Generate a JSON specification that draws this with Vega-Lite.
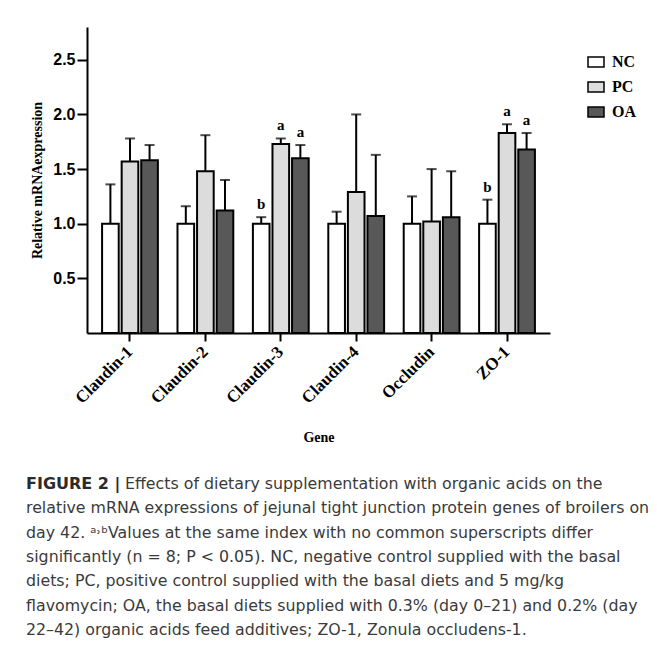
{
  "$schema": "https://vega.github.io/schema/vega-lite/v6.json",
  "background": "white",
  "padding": {"left": 26, "top": 27, "right": 5, "bottom": 5},
  "config": {"view": {"stroke": null}, "font": "Liberation Serif", "concat": {"spacing": 27}},
  "vconcat": [
    {
      "width": 463,
      "height": 306,
      "data": {"values": [
        {"gene": "Claudin-1", "group": "NC", "mean": 1.00, "err": 1.36, "sig": ""},
        {"gene": "Claudin-1", "group": "PC", "mean": 1.57, "err": 1.78, "sig": ""},
        {"gene": "Claudin-1", "group": "OA", "mean": 1.58, "err": 1.72, "sig": ""},
        {"gene": "Claudin-2", "group": "NC", "mean": 1.00, "err": 1.16, "sig": ""},
        {"gene": "Claudin-2", "group": "PC", "mean": 1.48, "err": 1.81, "sig": ""},
        {"gene": "Claudin-2", "group": "OA", "mean": 1.12, "err": 1.40, "sig": ""},
        {"gene": "Claudin-3", "group": "NC", "mean": 1.00, "err": 1.06, "sig": "b"},
        {"gene": "Claudin-3", "group": "PC", "mean": 1.73, "err": 1.78, "sig": "a"},
        {"gene": "Claudin-3", "group": "OA", "mean": 1.60, "err": 1.72, "sig": "a"},
        {"gene": "Claudin-4", "group": "NC", "mean": 1.00, "err": 1.11, "sig": ""},
        {"gene": "Claudin-4", "group": "PC", "mean": 1.29, "err": 2.00, "sig": ""},
        {"gene": "Claudin-4", "group": "OA", "mean": 1.07, "err": 1.63, "sig": ""},
        {"gene": "Occludin", "group": "NC", "mean": 1.00, "err": 1.25, "sig": ""},
        {"gene": "Occludin", "group": "PC", "mean": 1.02, "err": 1.50, "sig": ""},
        {"gene": "Occludin", "group": "OA", "mean": 1.06, "err": 1.48, "sig": ""},
        {"gene": "ZO-1", "group": "NC", "mean": 1.00, "err": 1.22, "sig": "b"},
        {"gene": "ZO-1", "group": "PC", "mean": 1.83, "err": 1.91, "sig": "a"},
        {"gene": "ZO-1", "group": "OA", "mean": 1.68, "err": 1.83, "sig": "a"}
      ]},
      "encoding": {
        "x": {
          "field": "gene", "type": "nominal",
          "sort": ["Claudin-1", "Claudin-2", "Claudin-3", "Claudin-4", "Occludin", "ZO-1"],
          "scale": {"paddingInner": 0.26},
          "title": "Gene",
          "axis": {
            "labelAngle": -45, "labelAlign": "right", "labelBaseline": "middle",
            "labelFont": "Liberation Serif", "labelFontWeight": "bold", "labelFontSize": 17,
            "labelColor": "black", "labelPadding": 8, "tickSize": 8, "tickWidth": 2, "tickColor": "black",
            "domainWidth": 2, "domainColor": "black", "titleFont": "Liberation Serif", "titleFontSize": 14,
            "titleFontWeight": "bold", "titleColor": "black", "titlePadding": 24
          }
        },
        "xOffset": {"field": "group", "type": "nominal", "sort": ["NC", "PC", "OA"], "scale": {"paddingInner": 0.15, "paddingOuter": 0}}
      },
      "layer": [
        {
          "mark": {"type": "bar", "stroke": "black", "strokeWidth": 2},
          "encoding": {
            "y": {
              "field": "mean", "type": "quantitative",
              "scale": {"domain": [0, 2.8], "nice": false},
              "title": "Relative mRNAexpression",
              "axis": {
                "values": [0.5, 1, 1.5, 2, 2.5], "format": ".1f", "grid": false,
                "domainColor": "black", "domainWidth": 2, "tickColor": "black", "tickWidth": 2, "tickSize": 10,
                "labelFont": "Liberation Sans", "labelFontWeight": "bold", "labelFontSize": 16, "labelColor": "black",
                "labelPadding": 2, "titleFont": "Liberation Serif", "titleFontSize": 14, "titleFontWeight": "bold",
                "titleColor": "black", "titlePadding": 8
              }
            },
            "fill": {
              "field": "group", "type": "nominal", "sort": ["NC", "PC", "OA"],
              "scale": {"domain": ["NC", "PC", "OA"], "range": ["#ffffff", "#dcdcdc", "#585858"]},
              "legend": {
                "orient": "none", "legendX": 500, "legendY": 26, "title": null,
                "symbolType": "M-1,-0.62H1V0.62H-1Z", "symbolSize": 256,
                "symbolStrokeColor": "black", "symbolStrokeWidth": 1.5, "symbolOpacity": 1,
                "labelFont": "Liberation Serif", "labelFontWeight": "bold", "labelFontSize": 16,
                "labelColor": "black", "labelOffset": 7, "rowPadding": 8, "padding": 0
              }
            }
          }
        },
        {
          "mark": {"type": "rule", "strokeWidth": 2, "color": "black"},
          "encoding": {
            "y": {"field": "mean", "type": "quantitative"},
            "y2": {"field": "err"}
          }
        },
        {
          "mark": {"type": "tick", "size": 10, "thickness": 2, "color": "black"},
          "encoding": {"y": {"field": "err", "type": "quantitative"}}
        },
        {
          "mark": {"type": "text", "baseline": "bottom", "dy": -5, "fontWeight": "bold", "fontSize": 15, "font": "Liberation Serif", "color": "black"},
          "encoding": {
            "y": {"field": "err", "type": "quantitative"},
            "text": {"field": "sig"}
          }
        }
      ]
    },
    {
      "width": 463,
      "height": 170,
      "data": {"values": [
        {"line": 0, "part": "head", "text": "FIGURE 2 |"},
        {"line": 0, "part": "first", "text": "Effects of dietary supplementation with organic acids on the"},
        {"line": 1, "part": "body", "text": "relative mRNA expressions of jejunal tight junction protein genes of broilers on"},
        {"line": 2, "part": "body", "text": "day 42. ᵃ˒ᵇValues at the same index with no common superscripts differ"},
        {"line": 3, "part": "body", "text": "significantly (n = 8; P < 0.05). NC, negative control supplied with the basal"},
        {"line": 4, "part": "body", "text": "diets; PC, positive control supplied with the basal diets and 5 mg/kg"},
        {"line": 5, "part": "body", "text": "flavomycin; OA, the basal diets supplied with 0.3% (day 0–21) and 0.2% (day"},
        {"line": 6, "part": "body", "text": "22–42) organic acids feed additives; ZO-1, Zonula occludens-1."}
      ]},
      "encoding": {
        "y": {"field": "line", "type": "ordinal", "axis": null, "scale": {"paddingInner": 0, "paddingOuter": 0}},
        "x": {"value": -61},
        "text": {"field": "text"}
      },
      "layer": [
        {
          "transform": [{"filter": "datum.part == 'head'"}],
          "mark": {"type": "text", "align": "left", "font": "DejaVu Sans", "fontSize": 16, "fontWeight": "bold", "color": "#2b2b2b"}
        },
        {
          "transform": [{"filter": "datum.part == 'first'"}],
          "mark": {"type": "text", "align": "left", "dx": 99, "font": "DejaVu Sans", "fontSize": 15.8, "color": "#3a3a3a"}
        },
        {
          "transform": [{"filter": "datum.part == 'body'"}],
          "mark": {"type": "text", "align": "left", "font": "DejaVu Sans", "fontSize": 15.8, "color": "#3a3a3a"}
        }
      ]
    }
  ]
}
